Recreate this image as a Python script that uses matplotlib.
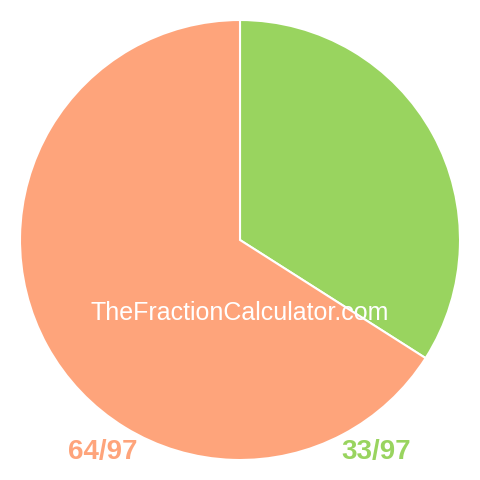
import matplotlib
matplotlib.use("Agg")
import matplotlib.pyplot as plt

labels = ["33/97", "64/97"]
values = [33, 64]
colors = ["#99d45f", "#fea47b"]

fig = plt.figure(figsize=(4.8, 4.8), dpi=100)
ax = fig.add_axes([0, 0, 1, 1])
ax.pie(values, colors=colors, startangle=90, counterclock=False, radius=1,
       wedgeprops={"edgecolor": "white", "linewidth": 1.5})
lim = 240 / 220
ax.set_xlim(-lim, lim)
ax.set_ylim(-lim, lim)
ax.set_aspect("equal")
ax.axis("off")

ax.text(0, -0.33, "TheFractionCalculator.com", color="white", fontsize=18,
        family="Liberation Sans", ha="center", va="center")
ax.text(-0.623, -0.963, labels[1], color=colors[1], fontsize=20, fontweight="bold",
        family="Liberation Sans", ha="center", va="center")
ax.text(0.618, -0.963, labels[0], color=colors[0], fontsize=20, fontweight="bold",
        family="Liberation Sans", ha="center", va="center")

fig.savefig("out.png", dpi=100)
